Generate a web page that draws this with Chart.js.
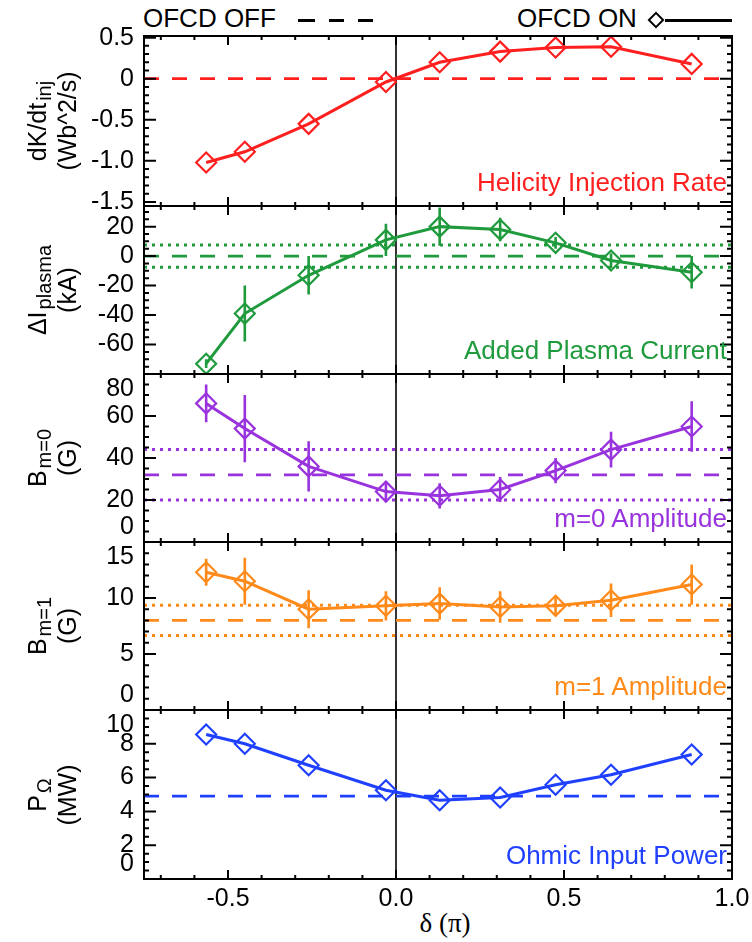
<!DOCTYPE html>
<html lang="en">
<head>
<meta charset="utf-8">
<title>OFCD phase scan</title>
<script src="https://cdn.jsdelivr.net/npm/chart.js@4.4.1/dist/chart.umd.min.js"></script>
<style>
  html, body { margin: 0; padding: 0; background: #fff; }
  #page {
    position: relative; width: 752px; height: 942px; overflow: hidden;
    font-family: "Liberation Sans", Arial, Helvetica, sans-serif; color: #000;
  }
  #page canvas { position: absolute; left: 0; }
  .legend { position: absolute; top: 3px; font-size: 26px; line-height: 30px; white-space: nowrap; }
  .dash { position: absolute; top: 19px; height: 3px; background: #000; }
  .diamond { position: absolute; width: 8px; height: 8px; border: 2.5px solid #000;
             transform: rotate(45deg); }
  .ytitle { position: absolute; width: 220px; height: 60px; text-align: center;
            font-size: 25px; line-height: 30px; transform: rotate(-90deg); white-space: nowrap; }
  .ytitle sub { font-size: 20px; line-height: 0; vertical-align: -5px; margin-left: 2px; }
  .tag { position: absolute; right: 25px; font-size: 26px; line-height: 26px; white-space: nowrap; }
  #xtitle { position: absolute; top: 908px; left: 385px; width: 120px; text-align: center;
            font-family: "Liberation Serif", "DejaVu Serif", serif; font-size: 27px; line-height: 30px; }
</style>
</head>
<body>
<div id="page">
  <div class="legend" style="left:143px">OFCD OFF</div>
  <div class="dash" style="left:298px;width:17px"></div>
  <div class="dash" style="left:329px;width:15px"></div>
  <div class="dash" style="left:358px;width:15px"></div>
  <div class="legend" style="left:517px">OFCD ON</div>
  <div class="diamond" style="left:650px;top:14px"></div>
  <div class="dash" style="left:665px;width:67px"></div>
  <div id="xtitle">δ (π)</div>
</div>

<script>
/* =====================================
   Data
===================================== */
const deltaPi = [-0.565, -0.45, -0.26, -0.03, 0.13, 0.31, 0.475, 0.64, 0.88];

const helicityRate = [-1.02, -0.89, -0.55, -0.04, 0.20, 0.33, 0.38, 0.39, 0.18];
const helicityOff = 0;

const addedCurrent = [-73, -39, -13, 11, 20, 18, 9, -3, -11];
const addedCurrentErr = [3, 19, 13, 11, 13, 8, 4, 5, 11];
const addedCurrentOff = 0;
const addedCurrentSpread = 7.5;

const bm0 = [66, 54, 36, 24, 22, 25, 34, 44, 55];
const bm0Err = [9, 16, 12, 5, 6, 6, 6, 8.5, 12];
const bm0Off = 32;
const bm0Spread = 12;

const bm1 = [12.3, 11.5, 9.0, 9.3, 9.5, 9.2, 9.3, 9.8, 11.2];
const bm1Err = [1.2, 2.1, 1.7, 1.3, 1.45, 1.4, 0.9, 1.5, 1.8];
const bm1Off = 8.0;
const bm1Spread = 1.35;

const ohmicPower = [8.55, 8.0, 6.73, 5.25, 4.66, 4.82, 5.58, 6.17, 7.37];
const ohmicOff = 4.9;

/* tick labels */
const xTicks = [-0.5, 0.0, 0.5, 1.0];
const helicityTicks = [-1.5, -1.0, -0.5, 0, 0.5];
const currentTicks = [-60, -40, -20, 0, 20];
const bm0Ticks = [0, 20, 40, 60, 80];
const bm1Ticks = [0, 5, 10, 15];
const ohmicTicks = [0, 2, 4, 6, 8, 10];

/* =====================================
   Layout
===================================== */
const PLOT_LEFT = 144;
const PLOT_RIGHT = 732;
const PLOT_BOTTOM = 879;
const panelTops = [36, 206, 374, 542, 710];
const PAD = 30;
const X_AXIS_H = 60;
const TICK_FONT = { family: "Liberation Sans", size: 25 };

const panels = [
  {
    color: "#ff1f1f", values: helicityRate, errors: null,
    off: helicityOff, spread: null,
    min: -1.55, max: 0.52, ticks: helicityTicks, major: 0.5, minor: 0.1,
    fmt: (v) => (v === 0 ? "0" : v.toFixed(1)), shiftEnds: false,
    title: "dK/dt<sub>inj</sub><br>(Wb^2/s)", tag: "Helicity Injection Rate"
  },
  {
    color: "#1f9a3c", values: addedCurrent, errors: addedCurrentErr,
    off: addedCurrentOff, spread: addedCurrentSpread,
    min: -80, max: 34, ticks: currentTicks, major: 20, minor: 5,
    fmt: (v) => String(v), shiftEnds: false,
    title: "ΔI<sub>plasma</sub><br>(kA)", tag: "Added Plasma Current"
  },
  {
    color: "#9933dd", values: bm0, errors: bm0Err,
    off: bm0Off, spread: bm0Spread,
    min: 0, max: 80, ticks: bm0Ticks, major: 20, minor: 5,
    fmt: (v) => String(v), shiftEnds: true,
    title: "B<sub>m=0</sub><br>(G)", tag: "m=0 Amplitude"
  },
  {
    color: "#ff8a1a", values: bm1, errors: bm1Err,
    off: bm1Off, spread: bm1Spread,
    min: 0, max: 15, ticks: bm1Ticks, major: 5, minor: 1,
    fmt: (v) => String(v), shiftEnds: true,
    title: "B<sub>m=1</sub><br>(G)", tag: "m=1 Amplitude"
  },
  {
    color: "#2040ff", values: ohmicPower, errors: null,
    off: ohmicOff, spread: null,
    min: 0, max: 10, ticks: ohmicTicks, major: 2, minor: 0.5,
    fmt: (v) => String(v), shiftEnds: true,
    title: "P<sub>Ω</sub><br>(MW)", tag: "Ohmic Input Power"
  }
];

/* =====================================
   Helpers
===================================== */
function stepValues(min, max, step) {
  const out = [];
  const first = Math.ceil(min / step - 1e-9);
  const last = Math.floor(max / step + 1e-9);
  for (let k = first; k <= last; k++) out.push(+(k * step).toFixed(6));
  return out;
}

function onStep(v, step) {
  const r = v / step;
  return Math.abs(r - Math.round(r)) < 1e-6;
}

/* box + inward ticks, IDL style */
const panelFrame = {
  id: "panelFrame",
  afterDatasetsDraw(chart, args, opts) {
    const { ctx, chartArea: a } = chart;
    const xs = chart.scales.x;
    const ys = chart.scales.y;

    ctx.save();
    ctx.strokeStyle = "#000";
    ctx.lineWidth = 2;
    ctx.beginPath();

    stepValues(ys.min, ys.max, opts.minor).forEach((v) => {
      const p = ys.getPixelForValue(v);
      const len = onStep(v, opts.major) ? 12 : 5;
      ctx.moveTo(a.left, p);
      ctx.lineTo(a.left + len, p);
      ctx.moveTo(a.right, p);
      ctx.lineTo(a.right - len, p);
    });

    stepValues(xs.min, xs.max, 0.1).forEach((v) => {
      const p = xs.getPixelForValue(v);
      const len = onStep(v, 0.5) ? 9 : 4;
      ctx.moveTo(p, a.top);
      ctx.lineTo(p, a.top + len);
      ctx.moveTo(p, a.bottom);
      ctx.lineTo(p, a.bottom - len);
    });

    ctx.stroke();
    ctx.strokeRect(a.left, a.top, a.right - a.left, a.bottom - a.top);
    ctx.restore();
  }
};

/* =====================================
   Build one panel
===================================== */
function makePanel(index, cfg) {
  const page = document.getElementById("page");
  const top = panelTops[index];
  const isLast = index === panelTops.length - 1;
  const bottom = isLast ? PLOT_BOTTOM : panelTops[index + 1];

  const canvas = document.createElement("canvas");
  canvas.width = 752;
  canvas.height = bottom - top + PAD + (isLast ? X_AXIS_H : PAD);
  canvas.style.top = (top - PAD) + "px";
  page.appendChild(canvas);

  const datasets = [];

  // measured OFCD-on points
  datasets.push({
    data: deltaPi.map((x, k) => ({ x, y: cfg.values[k] })),
    borderColor: cfg.color,
    borderWidth: 3,
    pointStyle: "rectRot",
    pointRadius: 10,
    pointBorderWidth: 2.2,
    pointBorderColor: cfg.color,
    pointBackgroundColor: "rgba(0,0,0,0)",
    tension: 0
  });

  // error bars, broken by null gaps
  if (cfg.errors) {
    datasets.push({
      data: deltaPi.flatMap((x, k) => [
        { x, y: cfg.values[k] - cfg.errors[k] },
        { x, y: cfg.values[k] + cfg.errors[k] },
        { x, y: null }
      ]),
      borderColor: cfg.color,
      borderWidth: 2.6,
      pointRadius: 0,
      spanGaps: false
    });
  }

  // OFCD off mean (dashed) and spread (dotted)
  datasets.push({
    data: [{ x: -0.75, y: cfg.off }, { x: 1.0, y: cfg.off }],
    borderColor: cfg.color,
    borderWidth: 2.8,
    borderDash: [15, 13],
    pointRadius: 0
  });

  if (cfg.spread !== null) {
    [cfg.off + cfg.spread, cfg.off - cfg.spread].forEach((lvl) => {
      datasets.push({
        data: [{ x: -0.75, y: lvl }, { x: 1.0, y: lvl }],
        borderColor: cfg.color,
        borderWidth: 3,
        borderDash: [3, 5],
        pointRadius: 0
      });
    });
  }

  // delta = 0 marker line
  datasets.push({
    data: [{ x: 0, y: cfg.min }, { x: 0, y: cfg.max }],
    borderColor: "#000",
    borderWidth: 1.6,
    pointRadius: 0
  });

  const last = cfg.ticks[cfg.ticks.length - 1];
  const first = cfg.ticks[0];

  const xScale = {
    type: "linear",
    min: -0.75,
    max: 1.0,
    display: isLast,
    grid: { display: false, drawTicks: false },
    border: { display: false },
    afterBuildTicks: (axis) => {
      axis.ticks = xTicks.map((v) => ({ value: v }));
    },
    ticks: {
      font: TICK_FONT,
      color: "#000",
      padding: 5,
      maxRotation: 0,
      autoSkip: false,
      callback: (v) => Number(v).toFixed(1)
    }
  };
  if (isLast) {
    xScale.afterFit = (axis) => {
      axis.height = X_AXIS_H;
      axis.paddingLeft = 0;
      axis.paddingRight = 0;
    };
  }

  new Chart(canvas, {
    type: "line",
    data: { datasets },
    options: {
      responsive: false,
      animation: false,
      devicePixelRatio: 1,
      events: [],
      layout: {
        padding: { top: PAD, bottom: isLast ? 0 : PAD, left: 0, right: 752 - PLOT_RIGHT }
      },
      plugins: {
        legend: { display: false },
        tooltip: { enabled: false },
        panelFrame: { major: cfg.major, minor: cfg.minor }
      },
      scales: {
        x: xScale,
        y: {
          type: "linear",
          min: cfg.min,
          max: cfg.max,
          grid: { display: false, drawTicks: false },
          border: { display: false },
          afterBuildTicks: (axis) => {
            axis.ticks = cfg.ticks.map((v) => ({ value: v }));
          },
          afterFit: (axis) => {
            axis.width = PLOT_LEFT;
            axis.paddingTop = 0;
            axis.paddingBottom = 0;
          },
          ticks: {
            font: TICK_FONT,
            color: "#000",
            padding: 10,
            autoSkip: false,
            callback: (v) => {
              const s = cfg.fmt(v);
              if (cfg.shiftEnds && v === last) return ["", s];
              if (cfg.shiftEnds && v === first) return [s, ""];
              return s;
            }
          }
        }
      }
    },
    plugins: [panelFrame]
  });

  // rotated axis title
  const mid = (top + bottom) / 2;
  const t = document.createElement("div");
  t.className = "ytitle";
  t.style.left = (52 - 110) + "px";
  t.style.top = (mid - 30) + "px";
  t.innerHTML = cfg.title;
  page.appendChild(t);

  // coloured panel name, bottom right
  const tag = document.createElement("div");
  tag.className = "tag";
  tag.style.top = (bottom - 37) + "px";
  tag.style.color = cfg.color;
  tag.textContent = cfg.tag;
  page.appendChild(tag);
}

/* =====================================
   Init
===================================== */
panels.forEach((cfg, i) => makePanel(i, cfg));
</script>
</body>
</html>
